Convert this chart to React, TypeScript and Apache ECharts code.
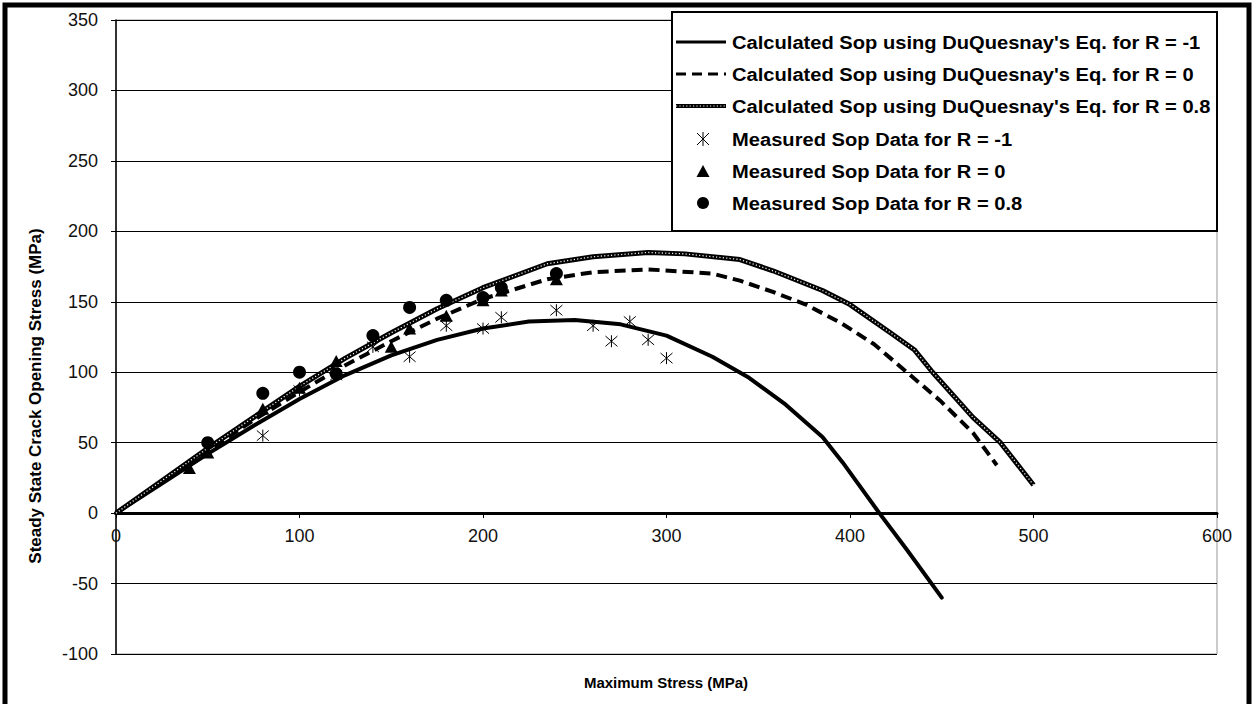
import React, { useEffect, useRef } from "react";
import * as echarts from "echarts";

// ---- Data ----
const xTicks = [0, 100, 200, 300, 400, 500, 600];
const yTicks = [-100, -50, 0, 50, 100, 150, 200, 250, 300, 350];

const calcRm1X = [0, 25, 50, 75, 100, 125, 150, 175, 200, 225, 250, 275, 300, 325, 345, 365, 385, 396, 416, 431, 450];
const calcRm1Y = [0, 21, 42, 62, 81, 98, 112, 123, 131, 136, 137, 134, 126, 111, 96, 77, 54, 36, 0, -26, -60];

const calcR0X = [0, 25, 50, 75, 100, 125, 150, 175, 200, 235, 260, 290, 325, 340, 358, 376, 395, 413, 431, 449, 467, 480];
const calcR0Y = [0, 22, 44, 66, 86, 105, 122, 138, 152, 166, 171, 173, 170, 165, 157, 148, 135, 120, 100, 80, 57, 34];

const calcR08X = [0, 25, 50, 75, 100, 125, 150, 175, 200, 235, 260, 290, 310, 340, 358, 385, 400, 422, 435, 445, 467, 482, 500];
const calcR08Y = [0, 23, 46, 68, 90, 110, 128, 145, 160, 177, 182, 185, 184, 180, 172, 158, 148, 128, 116, 100, 68, 50, 20];

const measRm1X = [80, 100, 120, 140, 160, 180, 200, 210, 240, 260, 270, 280, 290, 300];
const measRm1Y = [55, 87, 98, 118, 111, 133, 131, 139, 144, 133, 122, 136, 123, 110];

const measR0X = [40, 50, 80, 100, 120, 150, 160, 180, 200, 210, 240];
const measR0Y = [32, 43, 74, 89, 108, 118, 131, 140, 151, 158, 166];

const measR08X = [50, 80, 100, 120, 140, 160, 180, 200, 210, 240];
const measR08Y = [50, 85, 100, 99, 126, 146, 151, 153, 160, 170];

const legendLabels = [
  "Calculated Sop using DuQuesnay's Eq. for R = -1",
  "Calculated Sop using DuQuesnay's Eq. for R = 0",
  "Calculated Sop using DuQuesnay's Eq. for R = 0.8",
  "Measured Sop Data for R = -1",
  "Measured Sop Data for R = 0",
  "Measured Sop Data for R = 0.8",
];

const xTitle = "Maximum Stress (MPa)";
const yTitle = "Steady State Crack Opening Stress (MPa)";

const FONT = '"Liberation Sans", Arial, Helvetica, sans-serif';
const ASTERISK = "path://M0,0L12,12M12,0L0,12M6,-1L6,13";

const zip = (xs: number[], ys: number[]) => xs.map((x, i) => [x, ys[i]]);

function buildLegend(): any[] {
  const left = 672, top = 12, right = 1217, bottom = 231;
  const rows = [42, 74, 106, 139, 171, 203];
  const els: any[] = [
    {
      type: "rect",
      shape: { x: left, y: top, width: right - left, height: bottom - top },
      style: { fill: "#fff", stroke: "#000", lineWidth: 2 },
      z: 100,
    },
  ];
  const lx1 = 676, lx2 = 726, mx = 703;
  els.push({ type: "line", shape: { x1: lx1, y1: rows[0], x2: lx2, y2: rows[0] }, style: { stroke: "#000", lineWidth: 3 }, z: 101 });
  els.push({ type: "line", shape: { x1: lx1, y1: rows[1], x2: lx2, y2: rows[1] }, style: { stroke: "#000", lineWidth: 3, lineDash: [10, 6] }, z: 101 });
  els.push({ type: "line", shape: { x1: lx1, y1: rows[2], x2: lx2, y2: rows[2] }, style: { stroke: "#000", lineWidth: 4 }, z: 101 });
  els.push({ type: "line", shape: { x1: lx1, y1: rows[2], x2: lx2, y2: rows[2] }, style: { stroke: "#eee", lineWidth: 1, lineDash: [1.2, 2.2] }, z: 102 });
  const r3 = rows[3];
  [[-6, -6, 6, 6], [6, -6, -6, 6], [0, -7, 0, 7]].forEach((d) =>
    els.push({ type: "line", shape: { x1: mx + d[0], y1: r3 + d[1], x2: mx + d[2], y2: r3 + d[3] }, style: { stroke: "#000", lineWidth: 1 }, z: 101 })
  );
  const r4 = rows[4];
  els.push({ type: "polygon", shape: { points: [[mx, r4 - 6], [mx + 6.5, r4 + 6], [mx - 6.5, r4 + 6]] }, style: { fill: "#000" }, z: 101 });
  els.push({ type: "circle", shape: { cx: mx, cy: rows[5], r: 6 }, style: { fill: "#000" }, z: 101 });
  legendLabels.forEach((t, i) =>
    els.push({
      type: "text",
      x: 732,
      y: rows[i],
      scaleX: 1.06,
      style: { text: t, fontFamily: FONT, fontWeight: "bold", fontSize: 19, fill: "#000", align: "left", verticalAlign: "middle" },
      z: 101,
    })
  );
  return els;
}

export default function App() {
  const ref = useRef<HTMLDivElement>(null);
  useEffect(() => {
    if (!ref.current) return;
    const chart = echarts.init(ref.current, undefined, { renderer: "svg" });
    const lineBase = { type: "line", symbol: "none", smooth: false, z: 3 };
    const option: any = {
      animation: false,
      backgroundColor: "#fff",
      grid: { left: 116, right: 37, top: 20, bottom: 50, show: true, borderColor: "#999", borderWidth: 1 },
      xAxis: {
        type: "value",
        min: xTicks[0],
        max: xTicks[xTicks.length - 1],
        interval: 100,
        position: "bottom",
        offset: -141,
        axisLine: { onZero: false, lineStyle: { color: "#000", width: 3 } },
        axisTick: { show: true, length: 5, inside: false, lineStyle: { color: "#000", width: 1 } },
        axisLabel: { margin: 14, fontFamily: FONT, fontSize: 18, color: "#111" },
        splitLine: { show: false },
      },
      yAxis: {
        type: "value",
        min: yTicks[0],
        max: yTicks[yTicks.length - 1],
        interval: 50,
        axisLine: { show: true, onZero: false, lineStyle: { color: "#000", width: 1.5 } },
        axisTick: { show: true, length: 5, inside: false, lineStyle: { color: "#000", width: 1 } },
        axisLabel: { margin: 18, fontFamily: FONT, fontSize: 18, color: "#111" },
        splitLine: { show: true, lineStyle: { color: "#000", width: 1 } },
      },
      series: [
        { ...lineBase, name: legendLabels[0], data: zip(calcRm1X, calcRm1Y), lineStyle: { color: "#000", width: 4, cap: "round", join: "round" } },
        { ...lineBase, name: legendLabels[1], data: zip(calcR0X, calcR0Y), lineStyle: { color: "#000", width: 4, type: [11, 6] } },
        { ...lineBase, name: legendLabels[2], data: zip(calcR08X, calcR08Y), lineStyle: { color: "#000", width: 5, join: "round" } },
        { ...lineBase, name: legendLabels[2] + " pattern", data: zip(calcR08X, calcR08Y), z: 4, lineStyle: { color: "#eee", width: 1.3, type: [1.2, 2.2] } },
        {
          type: "scatter", name: legendLabels[3], data: zip(measRm1X, measRm1Y), z: 5,
          symbol: ASTERISK, symbolSize: 12,
          itemStyle: { color: "transparent", borderColor: "#000", borderWidth: 1, opacity: 1 },
        },
        { type: "scatter", name: legendLabels[4], data: zip(measR0X, measR0Y), z: 5, symbol: "triangle", symbolSize: [13, 12], itemStyle: { color: "#000", opacity: 1 } },
        { type: "scatter", name: legendLabels[5], data: zip(measR08X, measR08Y), z: 5, symbol: "circle", symbolSize: 13, itemStyle: { color: "#000", opacity: 1 } },
      ],
      graphic: [
        ...buildLegend(),
        {
          type: "text", x: 666, y: 682,
          style: { text: xTitle, fontFamily: FONT, fontWeight: "bold", fontSize: 15, fill: "#000", align: "center", verticalAlign: "middle" },
        },
        {
          type: "text", x: 35, y: 396, rotation: Math.PI / 2,
          style: { text: yTitle, fontFamily: FONT, fontWeight: "bold", fontSize: 17, fill: "#000", align: "center", verticalAlign: "middle" },
        },
        {
          type: "polyline",
          shape: { points: [[5, 704], [5, 5], [1249, 5], [1249, 704]] },
          style: { stroke: "#000", lineWidth: 5, fill: "none" },
          z: 200,
        },
      ],
    };
    chart.setOption(option);
    return () => chart.dispose();
  }, []);
  return <div ref={ref} style={{ position: "fixed", left: 0, top: 0, width: 1254, height: 704 }} />;
}
